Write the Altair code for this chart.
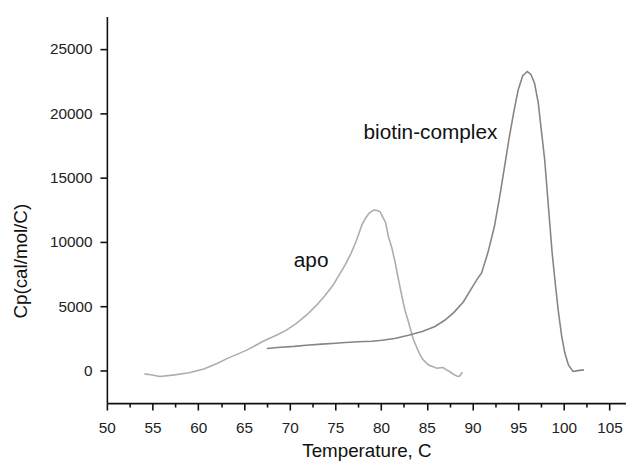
import altair as alt
import pandas as pd

# ---- data ----
apo_t = [54.1, 54.8, 55.8, 57.4, 59.0, 60.6, 62.0, 63.2, 64.3, 65.3, 66.2, 67.1,
         68.6, 69.6, 70.7, 71.8, 72.9, 73.8, 74.7, 75.5, 76.1, 76.7, 77.2, 77.6,
         77.9, 78.3, 78.7, 79.2, 79.6, 79.9, 80.1, 80.5, 80.8, 81.2, 81.55, 81.9,
         82.27, 82.6, 83.0, 83.5, 84.1, 84.5, 84.8, 85.2, 85.7, 86.1, 86.5, 86.8,
         87.1, 87.5, 88.0, 88.4, 88.6, 88.9]
apo_cp = [-230, -300, -430, -310, -150, 150, 550, 970, 1300, 1610, 1950, 2300,
          2790, 3145, 3660, 4300, 5060, 5800, 6600, 7550, 8260, 9100, 9925, 10700,
          11330, 11850, 12250, 12480, 12450, 12350, 12050, 11500, 10430, 9500, 8390, 7100,
          5830, 4750, 3790, 2510, 1490, 950, 720, 460, 320, 210, 240, 260,
          100, -46, -300, -430, -400, -100]

bio_t = [67.5, 69.0, 70.5, 71.8, 73.5, 75.0, 76.1, 77.5, 79.0, 80.1, 81.5, 83.0,
         84.5, 85.9, 87.0, 88.0, 89.0, 89.85, 90.5, 91.0, 91.7, 92.4, 93.0, 93.5,
         94.0, 94.5, 95.0, 95.5, 96.0, 96.4, 96.8, 97.2, 97.5, 97.9, 98.4, 98.7,
         99.05, 99.4, 99.75, 100.1, 100.5, 101.0, 101.5, 102.2]
bio_cp = [1740, 1830, 1900, 1995, 2080, 2150, 2200, 2260, 2300, 2380, 2520, 2760,
          3050, 3450, 3950, 4560, 5350, 6340, 7100, 7600, 9200, 11200, 13600, 15800,
          18000, 20000, 21800, 22900, 23230, 23000, 22300, 20800, 18900, 16400, 11960, 9300,
          6860, 4600, 2760, 1400, 460, -46, 20, 80]

series_names = ["apo", "biotin-complex"]
series_colors = ["#adadad", "#858585"]

label_text = ["apo", "biotin-complex"]
label_t = [72.35, 85.4]
label_cp = [8510, 18480]

x_ticks = [50 + 2.5 * i for i in range(23)]
y_major = [0, 5000, 10000, 15000, 20000, 25000]

rows = []
for t, c in zip(apo_t, apo_cp):
    rows.append({"T": t, "Cp": c, "series": "apo"})
for t, c in zip(bio_t, bio_cp):
    rows.append({"T": t, "Cp": c, "series": "biotin-complex"})
df = pd.DataFrame(rows)
labels = pd.DataFrame({"T": label_t, "Cp": label_cp, "text": label_text})

FONT = "Liberation Sans"

x_scale = alt.Scale(domain=[50, 106.8], nice=False, zero=False)
y_scale = alt.Scale(domain=[-2500, 27500], nice=False, zero=False)

x_axis = alt.Axis(
    title="Temperature, C",
    values=x_ticks,
    labelExpr="datum.value % 5 === 0 ? datum.label : ''",
    tickSize=alt.ExprRef("(datum.value % 5 === 0 ? 7 : 4)"),
    grid=False,
    domainColor="#111", domainWidth=1.6, tickColor="#111", tickWidth=1.6,
    labelFont=FONT, labelFontSize=15.5, labelColor="#222", labelPadding=11,
    labelFlush=False, labelOverlap=False,
    titleFont=FONT, titleFontSize=19, titleFontWeight="normal", titleColor="#111",
    titlePadding=6,
)
y_axis = alt.Axis(
    title="Cp(cal/mol/C)",
    values=y_major,
    format="d",
    tickSize=7,
    grid=False,
    domainColor="#111", domainWidth=1.6, tickColor="#111", tickWidth=1.6,
    labelFont=FONT, labelFontSize=15.5, labelColor="#222", labelPadding=8,
    labelFlush=False, labelOverlap=False,
    titleFont=FONT, titleFontSize=19, titleFontWeight="normal", titleColor="#111",
    titleX=-87, titleY=247, titleAngle=270, titleAlign="center", titleBaseline="middle",
)

lines = alt.Chart(df).mark_line(strokeWidth=1.6).encode(
    x=alt.X("T:Q", scale=x_scale, axis=x_axis),
    y=alt.Y("Cp:Q", scale=y_scale, axis=y_axis),
    color=alt.Color("series:N", scale=alt.Scale(domain=series_names, range=series_colors), legend=None),
    detail="series:N",
)

texts = alt.Chart(labels).mark_text(font=FONT, fontSize=21, color="#111", align="center", baseline="middle").encode(
    x=alt.X("T:Q", scale=x_scale, axis=x_axis),
    y=alt.Y("Cp:Q", scale=y_scale, axis=y_axis),
    text="text:N",
)

chart = alt.layer(lines, texts).properties(
    width=525, height=391,
    autosize=alt.AutoSizeParams(type="none"),
    padding={"left": 100, "top": 6, "right": 0, "bottom": 60},
    background="white",
).configure_view(stroke=None)

chart.save("out.html", embed_options={"renderer": "svg", "actions": False})
